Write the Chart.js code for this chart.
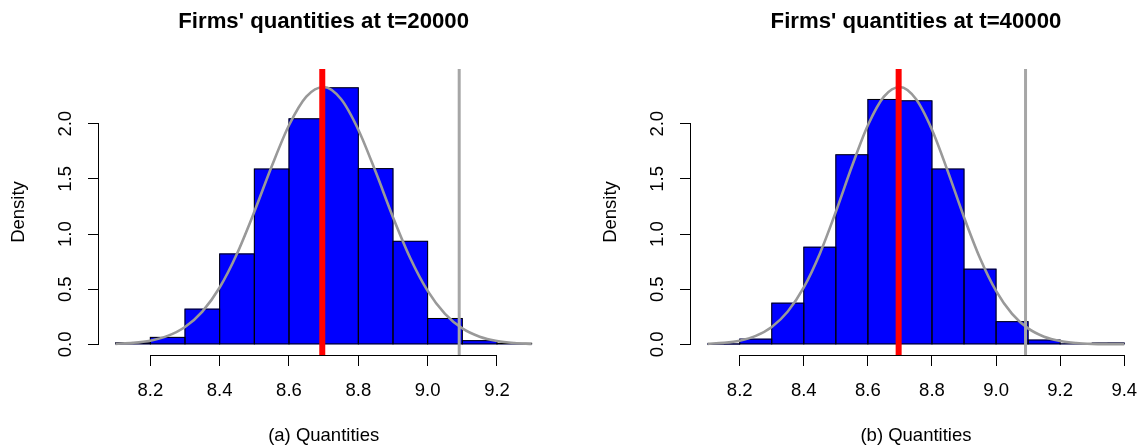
<!DOCTYPE html>
<html><head><meta charset="utf-8">
<script src="https://cdn.jsdelivr.net/npm/chart.js@4.4.0/dist/chart.umd.min.js"></script>
<style>
html,body{margin:0;padding:0;overflow:hidden;background:#fff;width:1137px;height:445px;position:relative;}
#wrapA{position:absolute;left:0;top:0;width:568px;height:445px;}
#wrapB{position:absolute;left:592px;top:0;width:560px;height:445px;}
canvas{display:block;}
</style></head><body>
<div id="wrapA"><canvas id="cA" width="568" height="445"></canvas></div>
<div id="wrapB"><canvas id="cB" width="560" height="445"></canvas></div>
<script>
// ---------- data ----------
const titleA = "Firms' quantities at t=20000";
const titleB = "Firms' quantities at t=40000";
const xLabelA = "(a) Quantities";
const xLabelB = "(b) Quantities";
const yLabel = "Density";

// histogram bins (centres of 0.1-wide bins) and densities
const binCentersA = [8.15, 8.25, 8.35, 8.45, 8.55, 8.65, 8.75, 8.85, 8.95, 9.05, 9.15, 9.25];
const densityA    = [0.015, 0.064, 0.32, 0.82, 1.59, 2.045, 2.326, 1.593, 0.935, 0.235, 0.034, 0.01];
const binCentersB = [8.15, 8.25, 8.35, 8.45, 8.55, 8.65, 8.75, 8.85, 8.95, 9.05, 9.15, 9.25, 9.35];
const densityB    = [0.003, 0.048, 0.374, 0.881, 1.719, 2.220, 2.208, 1.590, 0.682, 0.206, 0.04, 0.005, 0.013];

// fitted density curve (gray), read at 0.05 steps
const curveXA = [8.10, 8.15, 8.20, 8.25, 8.30, 8.35, 8.40, 8.45, 8.50, 8.55, 8.60, 8.65, 8.70, 8.75, 8.80, 8.85, 8.90, 8.95, 9.00, 9.05, 9.10, 9.15, 9.20, 9.25, 9.30];
const curveYA = [0.005, 0.014, 0.034, 0.077, 0.158, 0.298, 0.516, 0.822, 1.202, 1.612, 1.986, 2.246, 2.333, 2.224, 1.946, 1.564, 1.153, 0.781, 0.485, 0.277, 0.145, 0.070, 0.031, 0.013, 0.005];
const curveXB = [8.10, 8.15, 8.20, 8.25, 8.30, 8.35, 8.40, 8.45, 8.50, 8.55, 8.60, 8.65, 8.70, 8.75, 8.80, 8.85, 8.90, 8.95, 9.00, 9.05, 9.10, 9.15, 9.20, 9.25, 9.30, 9.35, 9.40];
const curveYB = [0.005, 0.014, 0.034, 0.077, 0.158, 0.298, 0.516, 0.822, 1.202, 1.612, 1.986, 2.246, 2.333, 2.224, 1.946, 1.564, 1.153, 0.781, 0.485, 0.277, 0.145, 0.070, 0.031, 0.013, 0.005, 0.002, 0.001];

// vertical reference lines
const meanLineA = 8.696, meanLineB = 8.696;   // red
const refLineA  = 9.091, refLineB  = 9.092;   // gray

// ticks
const xTicksA = [8.2, 8.4, 8.6, 8.8, 9.0, 9.2];
const xTicksB = [8.2, 8.4, 8.6, 8.8, 9.0, 9.2, 9.4];
const yTicks = [0, 0.5, 1.0, 1.5, 2.0];
const yTickLabels = ["0.0", "0.5", "1.0", "1.5", "2.0"];

// axis ranges (R style: data range + 4%)
const xRangeA = [8.052, 9.348];
const xRangeB = [8.048, 9.452];
const yRange = [-0.096, 2.496];

// ---------- styling ----------
const FAMILY = "'Liberation Sans', Arial, Helvetica, sans-serif";
const AX_FONT = 18.5;
const TITLE_FONT = 22.2;
Chart.defaults.font.family = FAMILY;
Chart.defaults.color = '#000';

function makeRPlugin(xt) {
  return {
    id: 'rStyle',
    afterDatasetDraw(chart, args) {
      if (args.meta.type !== 'bar') return;
      const ctx = chart.ctx;
      ctx.save();
      ctx.lineWidth = 1;
      ctx.strokeStyle = '#000';
      for (const el of args.meta.data) {
        const p = el.getProps(['x', 'y', 'base', 'width'], true);
        ctx.strokeRect(p.x - p.width / 2, p.y, p.width, p.base - p.y);
      }
      ctx.restore();
    },
    afterDraw(chart) {
      const ctx = chart.ctx;
      const xs = chart.scales.x, ys = chart.scales.y;
      const ca = chart.chartArea;
      ctx.save();
      ctx.strokeStyle = '#000';
      ctx.lineWidth = 1;
      const yb = Math.round(ca.bottom) + 0.5;
      ctx.beginPath();
      ctx.moveTo(xs.getPixelForValue(xt[0]), yb);
      ctx.lineTo(xs.getPixelForValue(xt[xt.length - 1]), yb);
      ctx.stroke();
      const xl = Math.round(ca.left) - 0.5;
      ctx.beginPath();
      ctx.moveTo(xl, ys.getPixelForValue(yTicks[0]));
      ctx.lineTo(xl, ys.getPixelForValue(yTicks[yTicks.length - 1]));
      ctx.stroke();
      ctx.fillStyle = '#000';
      ctx.font = AX_FONT + 'px ' + FAMILY;
      ctx.textAlign = 'center';
      ctx.textBaseline = 'middle';
      yTicks.forEach((v, i) => {
        ctx.save();
        ctx.translate(ca.left - 33, ys.getPixelForValue(v));
        ctx.rotate(-Math.PI / 2);
        ctx.fillText(yTickLabels[i], 0, 0);
        ctx.restore();
      });
      ctx.restore();
    }
  };
}

function makeChart(id, o) {
  return new Chart(document.getElementById(id), {
    type: 'bar',
    data: {
      datasets: [
        { type: 'line', data: [{x: o.mean, y: yRange[0]}, {x: o.mean, y: yRange[1]}],
          borderColor: '#FF0000', borderWidth: 6, pointRadius: 0, fill: false, order: 1 },
        { type: 'line', data: [{x: o.ref, y: yRange[0]}, {x: o.ref, y: yRange[1]}],
          borderColor: '#A6A6A6', borderWidth: 3, pointRadius: 0, fill: false, order: 2 },
        { type: 'line', data: o.cx.map((x, i) => ({x, y: o.cy[i]})),
          borderColor: '#999999', borderWidth: 2.6, pointRadius: 0, fill: false,
          cubicInterpolationMode: 'monotone', order: 3 },
        { type: 'bar', data: o.bx.map((x, i) => ({x, y: o.by[i]})),
          backgroundColor: '#0000FF', borderWidth: 0, barPercentage: 1, categoryPercentage: 1,
          order: 4 }
      ]
    },
    options: {
      responsive: false,
      animation: false,
      devicePixelRatio: 1,
      layout: { padding: { left: 0, right: o.padRight, top: 0, bottom: 0 } },
      plugins: {
        legend: { display: false },
        tooltip: { enabled: false },
        title: { display: true, text: o.title, fullSize: false, color: '#000',
          font: { size: TITLE_FONT, weight: 'bold', family: FAMILY, lineHeight: 1.2 },
          padding: { top: 8.1, bottom: 34.26 } }
      },
      scales: {
        x: {
          type: 'linear', min: o.xRange[0], max: o.xRange[1], offset: false,
          afterBuildTicks: (s) => { s.ticks = o.xTicks.map(v => ({value: v})); },
          afterFit: (s) => { s.height = 90; },
          ticks: { autoSkip: false, maxRotation: 0, minRotation: 0, padding: 14, color: '#000',
            font: { size: AX_FONT, family: FAMILY }, callback: (v) => Number(v).toFixed(1) },
          grid: { display: true, drawOnChartArea: false, drawTicks: true, tickLength: 11, color: '#000', offset: false },
          border: { display: false },
          title: { display: true, text: o.xLabel, color: '#000',
            font: { size: AX_FONT, family: FAMILY, lineHeight: 1 }, padding: { top: 0, bottom: 0 } }
        },
        y: {
          type: 'linear', min: yRange[0], max: yRange[1],
          afterBuildTicks: (s) => { s.ticks = yTicks.map(v => ({value: v})); },
          afterFit: (s) => { s.width = 99; },
          ticks: { display: false },
          grid: { display: true, drawOnChartArea: false, drawTicks: true, tickLength: 11, color: '#000' },
          border: { display: false },
          title: { display: true, text: yLabel, color: '#000',
            font: { size: AX_FONT, family: FAMILY, lineHeight: 1 }, padding: { top: 10, bottom: 0 } }
        }
      }
    },
    plugins: [makeRPlugin(o.xTicks)]
  });
}

makeChart('cA', { title: titleA, xLabel: xLabelA, bx: binCentersA, by: densityA,
  cx: curveXA, cy: curveYA, mean: meanLineA, ref: refLineA, xTicks: xTicksA, xRange: xRangeA, padRight: 19.7 });
makeChart('cB', { title: titleB, xLabel: xLabelB, bx: binCentersB, by: densityB,
  cx: curveXB, cy: curveYB, mean: meanLineB, ref: refLineB, xTicks: xTicksB, xRange: xRangeB, padRight: 11.1 });
</script>
</body></html>
